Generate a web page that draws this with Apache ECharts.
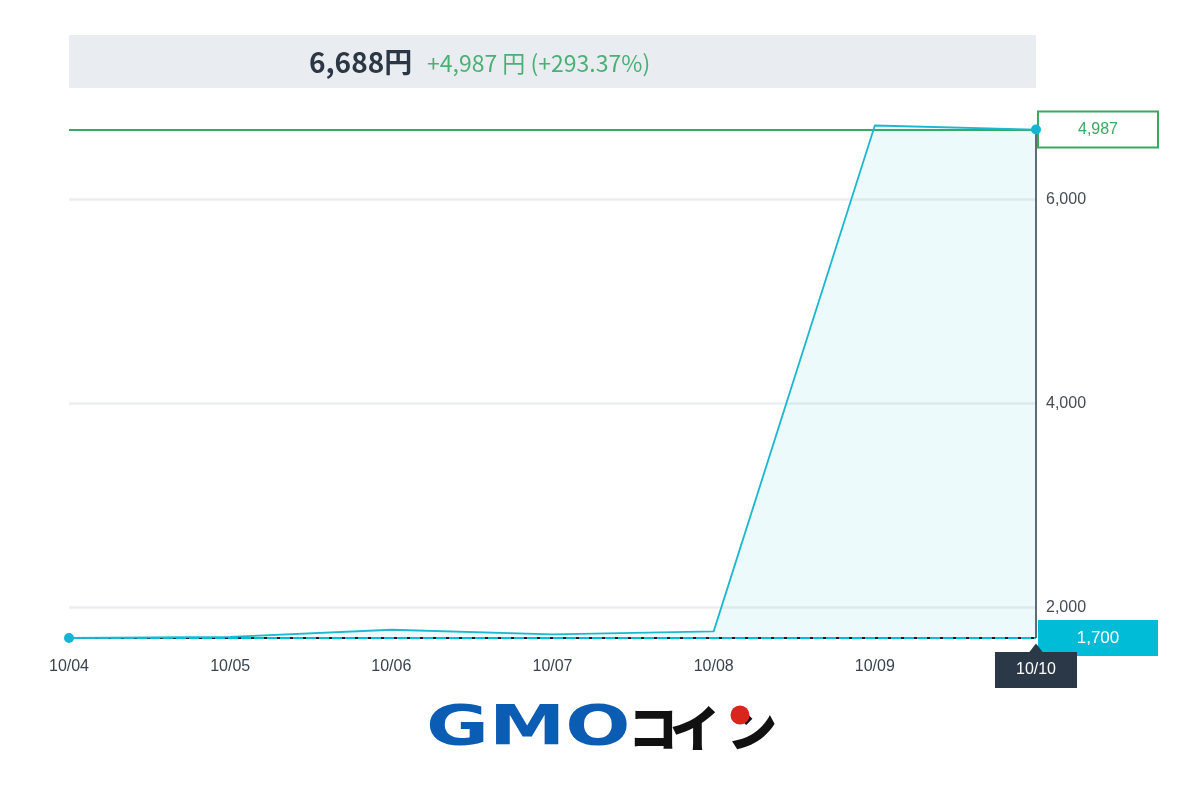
<!DOCTYPE html>
<html>
<head>
<meta charset="utf-8">
<script src="https://cdn.jsdelivr.net/npm/echarts@6/dist/echarts.min.js"></script>
<style>
html,body{margin:0;padding:0;background:#fff;}
#chart{width:1200px;height:800px;}
</style>
</head>
<body>
<div id="chart"></div>
<script>
// ---- data ----
const dates = ['10/04', '10/05', '10/06', '10/07', '10/08', '10/09', '10/10'];
const prices = [1700, 1711, 1781, 1736, 1765, 6728, 6688];
const basePrice = 1700;
const lastPrice = 6688;
const priceTicks = [2000, 4000, 6000];
const headerPrice = '6,688円';
const headerChange = '+4,987 円 (+293.37%)';
const changeLabel = '4,987';
const baseLabel = '1,700';
const logoLatin = 'GMO';
const logoKana = ['コ', 'イ', 'ン'];

const fmt = v => Number(v).toLocaleString('en-US');
const lastIdx = prices.length - 1;
const lastDate = dates[lastIdx];

const chart = echarts.init(document.getElementById('chart'));
chart.setOption({
  animation: false,
  backgroundColor: '#ffffff',
  textStyle: { fontFamily: 'Liberation Sans, Arial, sans-serif' },
  grid: { left: 69, right: 164, top: 110, bottom: 162 },
  xAxis: {
    type: 'category',
    data: dates,
    boundaryGap: false,
    axisLine: { show: false },
    axisTick: { show: false },
    splitLine: { show: false },
    axisLabel: { color: '#3a4450', fontSize: 16, margin: 21 },
    axisPointer: {
      show: true,
      status: 'show',
      value: lastDate,
      type: 'none',
      triggerTooltip: false,
      label: {
        show: true,
        margin: 14,
        backgroundColor: '#2b3847',
        color: '#ffffff',
        fontSize: 16,
        padding: [10, 21],
        borderRadius: 0,
        shadowBlur: 0
      }
    }
  },
  yAxis: {
    type: 'value',
    position: 'right',
    min: basePrice,
    max: 6880,
    axisLine: { show: false },
    axisTick: { show: false, customValues: priceTicks },
    axisLabel: {
      customValues: priceTicks,
      color: '#444c56',
      fontSize: 16,
      margin: 10,
      formatter: v => fmt(v)
    },
    splitLine: { show: true, lineStyle: { color: '#eceef1', width: 2.5 } }
  },
  series: [{
    type: 'line',
    data: prices,
    z: 4,
    symbol: 'circle',
    showAllSymbol: true,
    symbolSize: (v, p) => (p.dataIndex === 0 || p.dataIndex === lastIdx) ? 10 : 0,
    itemStyle: { color: '#12b6d3' },
    lineStyle: { color: '#1db8d0', width: 1.8 },
    areaStyle: { color: 'rgba(0,184,214,0.1)', origin: 'start' },
    markLine: {
      z: 3,
      silent: true,
      symbol: ['none', 'none'],
      data: [
        {
          yAxis: lastPrice,
          lineStyle: { color: '#3aa860', width: 2, type: 'solid' },
          label: {
            show: true, position: 'end', distance: 3,
            formatter: '{a|' + changeLabel + '}',
            backgroundColor: '#ffffff', borderColor: '#3aa860', borderWidth: 2, padding: 0,
            rich: { a: { width: 118, lineHeight: 34, height: 34, align: 'center', color: '#3aa860', fontSize: 16 } }
          }
        },
        {
          yAxis: basePrice,
          lineStyle: { color: '#00bcd6', width: 2, type: 'solid' },
          label: {
            show: true, position: 'end', distance: 2,
            formatter: '{a|' + baseLabel + '}',
            backgroundColor: '#00bcd6', padding: 0,
            rich: { a: { width: 120, lineHeight: 36, height: 36, align: 'center', color: '#ffffff', fontSize: 17 } }
          }
        },
        {
          yAxis: basePrice,
          lineStyle: { color: '#1a1a1a', width: 2, type: [3, 10] },
          label: { show: false }
        },
        [
          { coord: [lastDate, lastPrice], lineStyle: { color: '#2b3847', width: 1.5, type: 'solid' }, label: { show: false } },
          { coord: [lastDate, basePrice] }
        ]
      ]
    },
    markPoint: {
      silent: true,
      data: [{
        coord: [lastDate, basePrice],
        symbol: 'triangle',
        symbolSize: [14, 9],
        symbolOffset: [0, 10],
        itemStyle: { color: '#2b3847' },
        label: { show: false }
      }]
    }
  }],
  graphic: [
    { type: 'rect', shape: { x: 69, y: 35, width: 967, height: 53 }, style: { fill: '#e9ecf0' }, z: 0 },
    { type: 'text', x: 309, y: 62, style: { text: headerPrice, font: 'bold 28px "Noto Sans CJK JP", "Noto Sans", sans-serif', fill: '#2b3745', textVerticalAlign: 'middle', textAlign: 'left' } },
    { type: 'text', x: 427, y: 63, style: { text: headerChange, font: '23px "Noto Sans CJK JP", "Noto Sans", sans-serif', fill: '#4cb075', textVerticalAlign: 'middle', textAlign: 'left' } },
    { type: 'text', x: 426, y: 729, scaleX: 1.37, style: { text: logoLatin, font: '900 56px "DejaVu Sans", sans-serif', fill: '#0b5cb3', textVerticalAlign: 'middle', textAlign: 'left' } },
    { type: 'text', x: 653, y: 728, style: { text: logoKana[0], font: '900 50px "Noto Sans CJK JP", sans-serif', fill: '#111111', textVerticalAlign: 'middle', textAlign: 'center' } },
    { type: 'text', x: 695, y: 728, style: { text: logoKana[1], font: '900 50px "Noto Sans CJK JP", sans-serif', fill: '#111111', textVerticalAlign: 'middle', textAlign: 'center' } },
    { type: 'text', x: 752, y: 728, style: { text: logoKana[2], font: '900 50px "Noto Sans CJK JP", sans-serif', fill: '#111111', textVerticalAlign: 'middle', textAlign: 'center' } },
    { type: 'circle', shape: { cx: 740, cy: 715, r: 9.5 }, style: { fill: '#d9261c' }, z: 10 }
  ]
});
</script>
</body>
</html>
